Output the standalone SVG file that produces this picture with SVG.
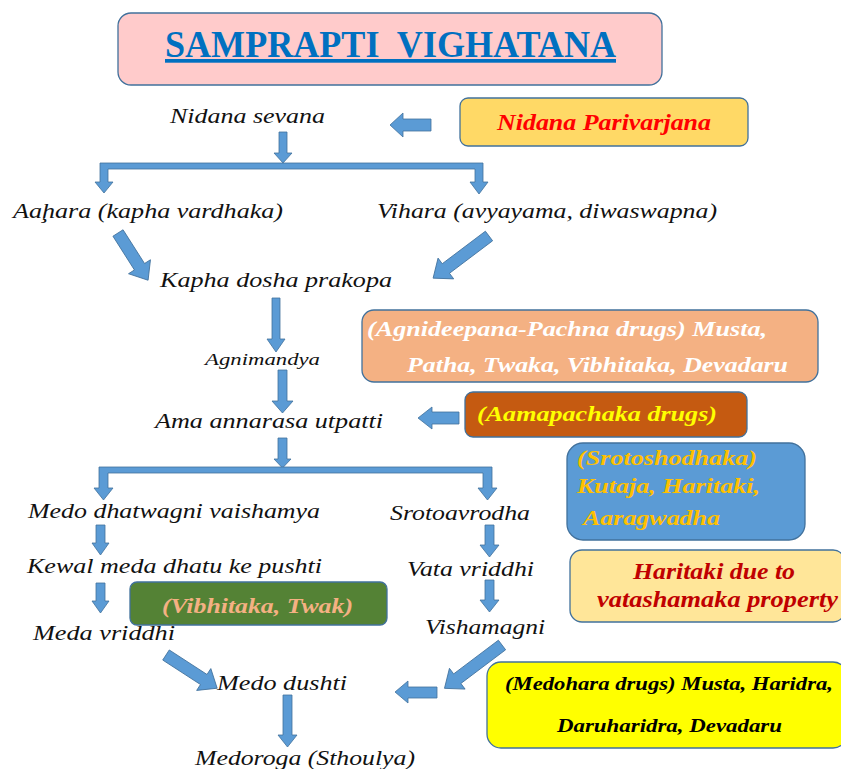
<svg xmlns="http://www.w3.org/2000/svg" width="841" height="769" viewBox="0 0 841 769">
<style>
.arr{fill:#5B9BD5;stroke:#41719C;stroke-width:0.8}
.box{stroke:#41719C;stroke-width:1.3}
.t{font-family:'Liberation Serif','DejaVu Serif','Noto Serif',serif;font-style:italic;fill:#111}
.b{font-family:'Liberation Serif','DejaVu Serif','Noto Serif',serif;font-style:italic;font-weight:bold}
.h{font-family:'Liberation Serif','DejaVu Serif','Noto Serif',serif;font-weight:bold;fill:#0070C0}
</style>
<rect width="841" height="769" fill="#fff"/>
<g id="title">
<rect class="box" x="118" y="13" width="544" height="72" rx="13" fill="#FFCBCB" stroke="#7F9FC4"/>
<text class="h" x="165" y="57" font-size="37" text-decoration="underline" xml:space="preserve" textLength="451" lengthAdjust="spacingAndGlyphs">SAMPRAPTI  VIGHATANA</text>
</g>
<g id="connectors">
<polygon class="arr" points="279,132 287,132 287,153 292,153 283,163 274,153 279,153"/>
<polygon class="arr" points="431,119 403,119 403,113 390,125 403,137 403,131 431,131"/>
<path class="arr" d="M100,163 H483 V182 H488 L479,194 L470,182 H475 V169 H108 V182 H113 L104,193 L95,182 H100 Z"/>
<polygon class="arr" points="0,-6 40,-6 40,-13 56,0 40,13 40,6 0,6" transform="translate(118,233) rotate(57.5)"/>
<polygon class="arr" points="0,-6 54,-6 54,-13 70,0 54,13 54,6 0,6" transform="translate(489,236) rotate(143)"/>
<polygon class="arr" points="272,298 280,298 280,339 285,339 276,352 267,339 272,339"/>
<polygon class="arr" points="278,370 287,370 287,401 293,401 282.5,413 272,401 278,401"/>
<polygon class="arr" points="459,412 432,412 432,407 418,418 432,429 432,424 459,424"/>
<polygon class="arr" points="278,438 287,438 287,459 291,459 282.5,468 274,459 278,459"/>
<path class="arr" d="M99,467 H492 V488 H497 L487.5,500 L478,488 H483 V473 H108 V488 H113 L103.5,500 L94,488 H99 Z"/>
<polygon class="arr" points="96,525 105,525 105,543 109,543 100.5,555 92,543 96,543"/>
<polygon class="arr" points="96,583 105,583 105,601 109,601 100.5,613 92,601 96,601"/>
<polygon class="arr" points="485,525 494,525 494,545 499,545 489.5,557 480,545 485,545"/>
<polygon class="arr" points="485,580 494,580 494,600 499,600 489.5,612 480,600 485,600"/>
<polygon class="arr" points="0,-6 45,-6 45,-13 61,0 45,13 45,6 0,6" transform="translate(166,655) rotate(33)"/>
<polygon class="arr" points="0,-6 56,-6 56,-13 72,0 56,13 56,6 0,6" transform="translate(502,645) rotate(143)"/>
<polygon class="arr" points="437,687 408,687 408,681 395,692 408,703 408,698 437,698"/>
<polygon class="arr" points="283,695 292,695 292,735 297,735 287.5,747 278,735 283,735"/>
</g>
<g id="nidana-sevana"><text class="t" x="170" y="123" font-size="22" textLength="155" lengthAdjust="spacingAndGlyphs">Nidana sevana</text></g>
<g id="nidana-parivarjana">
<rect class="box" x="460" y="98" width="288" height="48" rx="8" fill="#FFD966"/>
<text class="b" x="497" y="130" font-size="23" fill="#FF0000" textLength="214" lengthAdjust="spacingAndGlyphs">Nidana Parivarjana</text>
</g>
<g id="aahara"><text class="t" x="13" y="218" font-size="22" textLength="270" lengthAdjust="spacingAndGlyphs">Aaḩara (kapha vardhaka)</text></g>
<g id="vihara"><text class="t" x="377" y="218" font-size="22" textLength="340" lengthAdjust="spacingAndGlyphs">Vihara (avyayama, diwaswapna)</text></g>
<g id="kapha"><text class="t" x="160" y="287" font-size="22" textLength="232" lengthAdjust="spacingAndGlyphs">Kapha dosha prakopa</text></g>
<g id="agnideepana">
<rect class="box" x="362" y="310" width="456" height="72" rx="12" fill="#F4B183"/>
<text class="b" x="367" y="336" font-size="21" fill="#fff" textLength="400" lengthAdjust="spacingAndGlyphs">(Agnideepana-Pachna drugs) Musta,</text>
<text class="b" x="407" y="372" font-size="21" fill="#fff" textLength="381" lengthAdjust="spacingAndGlyphs">Patha, Twaka, Vibhitaka, Devadaru</text>
</g>
<g id="agnimandya"><text class="t" x="205" y="365" font-size="17" textLength="115" lengthAdjust="spacingAndGlyphs">Agnimandya</text></g>
<g id="ama"><text class="t" x="155" y="428" font-size="22" textLength="228" lengthAdjust="spacingAndGlyphs">Ama annarasa utpatti</text></g>
<g id="aamapachaka">
<rect class="box" x="465" y="392" width="282" height="45" rx="8" fill="#C55A11"/>
<text class="b" x="477" y="421" font-size="22" fill="#FFFF00" textLength="240" lengthAdjust="spacingAndGlyphs">(Aamapachaka drugs)</text>
</g>
<g id="srotoshodhaka">
<rect class="box" x="567" y="443" width="238" height="97" rx="16" fill="#5B9BD5"/>
<text class="b" x="577" y="465" font-size="20" fill="#FFC000" textLength="180" lengthAdjust="spacingAndGlyphs">(Srotoshodhaka)</text>
<text class="b" x="577" y="493" font-size="20" fill="#FFC000" textLength="183" lengthAdjust="spacingAndGlyphs">Kutaja, Haritaki,</text>
<text class="b" x="583" y="525" font-size="20" fill="#FFC000" textLength="137" lengthAdjust="spacingAndGlyphs">Aaragwadha</text>
</g>
<g id="medo-dhatwagni"><text class="t" x="28" y="518" font-size="20" textLength="292" lengthAdjust="spacingAndGlyphs">Medo dhatwagni vaishamya</text></g>
<g id="srotoavrodha"><text class="t" x="390" y="520" font-size="20" textLength="140" lengthAdjust="spacingAndGlyphs">Srotoavrodha</text></g>
<g id="kewal"><text class="t" x="27" y="573" font-size="20" textLength="295" lengthAdjust="spacingAndGlyphs">Kewal meda dhatu ke pushti</text></g>
<g id="vata"><text class="t" x="407" y="576" font-size="20" textLength="127" lengthAdjust="spacingAndGlyphs">Vata vriddhi</text></g>
<g id="haritaki">
<rect class="box" x="570" y="550" width="275" height="72" rx="12" fill="#FFE699"/>
<text class="b" x="633" y="579" font-size="23" fill="#C00000" textLength="162" lengthAdjust="spacingAndGlyphs">Haritaki due to</text>
<text class="b" x="597" y="607" font-size="23" fill="#C00000" textLength="241" lengthAdjust="spacingAndGlyphs">vatashamaka property</text>
</g>
<g id="vibhitaka">
<rect class="box" x="130" y="582" width="257" height="43" rx="7" fill="#548235"/>
<text class="b" x="162" y="613" font-size="20" fill="#F4B183" textLength="191" lengthAdjust="spacingAndGlyphs">(Vibhitaka, Twak)</text>
</g>
<g id="meda-vriddhi"><text class="t" x="33" y="640" font-size="20" textLength="142" lengthAdjust="spacingAndGlyphs">Meda vriddhi</text></g>
<g id="vishamagni"><text class="t" x="425" y="634" font-size="20" textLength="120" lengthAdjust="spacingAndGlyphs">Vishamagni</text></g>
<g id="medo-dushti"><text class="t" x="217" y="690" font-size="21" textLength="130" lengthAdjust="spacingAndGlyphs">Medo dushti</text></g>
<g id="medohara">
<rect class="box" x="487" y="662" width="360" height="86" rx="14" fill="#FFFF00"/>
<text class="b" x="505" y="690" font-size="19" fill="#000" textLength="328" lengthAdjust="spacingAndGlyphs">(Medohara drugs) Musta, Haridra,</text>
<text class="b" x="557" y="732" font-size="19" fill="#000" textLength="225" lengthAdjust="spacingAndGlyphs">Daruharidra, Devadaru</text>
</g>
<g id="medoroga"><text class="t" x="195" y="765" font-size="21" textLength="220" lengthAdjust="spacingAndGlyphs">Medoroga (Sthoulya)</text></g>
</svg>
